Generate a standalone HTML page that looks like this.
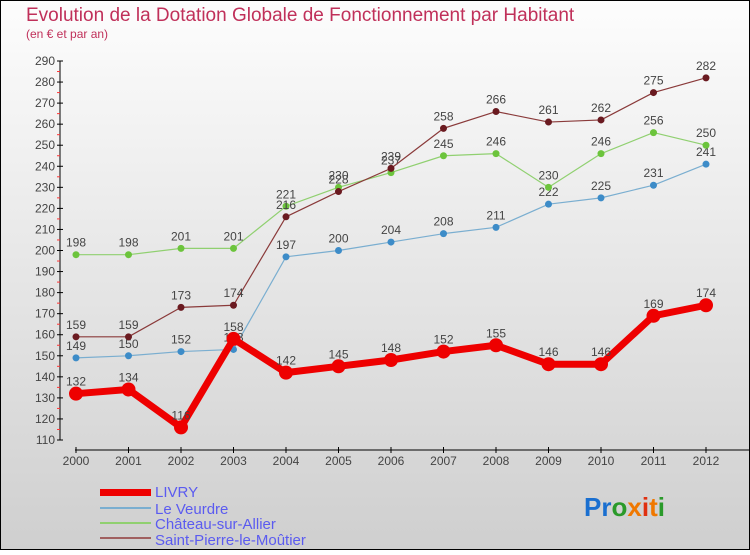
<!DOCTYPE html>
<html><head><meta charset="utf-8"><style>
html,body{margin:0;padding:0}
body{width:750px;height:550px;overflow:hidden;font-family:"Liberation Sans",sans-serif}
</style></head><body>
<svg width="750" height="550" viewBox="0 0 750 550" style="font-family:'Liberation Sans',sans-serif">
<defs><linearGradient id="bg" x1="0" y1="0" x2="0" y2="1"><stop offset="0" stop-color="#fdfdfd"/><stop offset="1" stop-color="#cfcfcf"/></linearGradient></defs>
<rect x="0.5" y="0.5" width="749" height="549" fill="url(#bg)" stroke="#000"/>
<text x="26" y="21" font-size="19" fill="#c0305a">Evolution de la Dotation Globale de Fonctionnement par Habitant</text>
<text x="26" y="38" font-size="12" fill="#c0305a">(en € et par an)</text>
<g id="axes"></g><g id="series"></g>
<g>
<rect x="100" y="489" width="51" height="7" fill="#e00"/>
<text x="155" y="497" font-size="15" fill="#5b5bf0">LIVRY</text>
<line x1="100" x2="151" y1="508" y2="508" stroke="#7aaed0" stroke-width="2"/>
<text x="155" y="514" font-size="15" fill="#5b5bf0">Le Veurdre</text>
<line x1="100" x2="151" y1="523" y2="523" stroke="#90d070" stroke-width="2"/>
<text x="155" y="529" font-size="15" fill="#5b5bf0">Château-sur-Allier</text>
<line x1="100" x2="151" y1="538" y2="538" stroke="#a06060" stroke-width="2"/>
<text x="155" y="545" font-size="15" fill="#5b5bf0">Saint-Pierre-le-Moûtier</text>
</g>
<g font-size="26" font-weight="bold">
<text x="584" y="516"><tspan fill="#1a6fd0">Pr</tspan><tspan fill="#2a9a2a">o</tspan><tspan fill="#f07800">x</tspan><tspan fill="#e03010">i</tspan><tspan fill="#f07800">t</tspan><tspan fill="#2a9a2a">i</tspan></text>
</g>
</svg>
<script>
const years=[2000,2001,2002,2003,2004,2005,2006,2007,2008,2009,2010,2011,2012];
const yTicks=[110,120,130,140,150,160,170,180,190,200,210,220,230,240,250,260,270,280,290];
const livry=[132,134,116,158,142,145,148,152,155,146,146,169,174];
const veurdre=[149,150,152,153,197,200,204,208,211,222,225,231,241];
const chateau=[198,198,201,201,221,230,237,245,246,230,246,256,250];
const stPierre=[159,159,173,174,216,228,239,258,266,261,262,275,282];
const NS="http://www.w3.org/2000/svg";
const X=i=>76+i*52.5;
const Y=v=>440-(v-110)*(379/180);
function mk(t,a,p){const e=document.createElementNS(NS,t);for(const k in a)e.setAttribute(k,a[k]);p.appendChild(e);return e;}
const ax=document.getElementById('axes');
const yl=mk('line',{x1:60,x2:60,y1:Y(290),y2:Y(110),stroke:'#000'},ax);


yTicks.forEach(v=>{
 mk('line',{x1:57,x2:63,y1:Y(v),y2:Y(v),stroke:'#000'},ax);
 if(v<290) mk('line',{x1:57,x2:60,y1:Y(v+5),y2:Y(v+5),stroke:'#f33'},ax);
 const t=mk('text',{x:55,y:Y(v)+4,'text-anchor':'end','font-size':12,fill:'#444'},ax);
 t.textContent=v;
 
 
});
const xl=mk('line',{x1:75,x2:750,y1:450,y2:450,stroke:'#000'},ax);


years.forEach((yr,i)=>{
 mk('line',{x1:X(i),x2:X(i),y1:447,y2:453,stroke:'#000'},ax);
 const t=mk('text',{x:X(i),y:465,'text-anchor':'middle','font-size':12,fill:'#444'},ax);
 t.textContent=yr;
 
 
});
const sg=document.getElementById('series');
function draw(vals,color,dot,w,r,name){
 const g=mk('g',{},sg);
 
 
 const pl=mk('polyline',{points:vals.map((v,i)=>X(i)+','+Y(v)).join(' '),fill:'none',stroke:color,'stroke-width':w,'stroke-linejoin':'round'},g);
 
 
 vals.forEach((v,i)=>{
  const c=mk('circle',{cx:X(i),cy:Y(v),r:r,fill:dot},g);
  
  
  const t=mk('text',{x:X(i),y:Y(v)-8,'text-anchor':'middle','font-size':12,fill:'#444'},g);
  t.textContent=v;
  
  
 });
}
draw(veurdre,'#7aaed0','#3d8cc8',1.2,3.5,'le-veurdre');
draw(chateau,'#90d070','#6cc43c',1.2,3.5,'chateau-sur-allier');
draw(stPierre,'#8a3a3a','#6a1a20',1.2,3.5,'saint-pierre-le-moutier');
draw(livry,'#ee0000','#ee0000',7,7,'livry');
</script>
</body></html>
